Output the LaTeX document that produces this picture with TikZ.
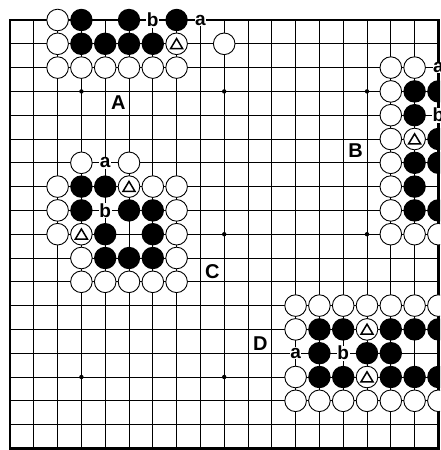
\documentclass[tikz,border=0pt]{standalone}
\usepackage{fontspec}
\setmainfont{Liberation Sans}
\begin{document}
\begin{tikzpicture}[x=23.8pt, y=-23.8pt,
  gridline/.style={line width=0.9pt},
  edgeline/.style={line width=2.2pt, line join=miter},
  wstone/.style={circle, draw, fill=white, line width=0.9pt, minimum size=21.6pt, inner sep=0pt},
  bstone/.style={circle, fill=black, minimum size=22.4pt, inner sep=0pt},
  trimark/.style={line width=1.5pt, line join=miter},
  lbl/.style={fill=white, inner sep=0.6pt, font=\fontsize{19}{19}\selectfont\bfseries},
  biglbl/.style={inner sep=0pt, font=\fontsize{20}{20}\selectfont\bfseries},
  hoshi/.style={circle, fill=black, minimum size=4.4pt, inner sep=0pt}]
\useasboundingbox (-0.42017,-0.84034) rectangle (18.0672,18.0672);
\clip (-0.42017,-0.84034) rectangle (18.0672,18.0672);
% board
\foreach \i in {1,...,17} {
  \draw[gridline] (\i,0) -- (\i,18);
  \draw[gridline] (0,\i) -- (18,\i);
}
\draw[edgeline] (0,0) rectangle (18,18);
\foreach \c/\r in {3/3,9/3,15/3,3/9,9/9,15/9,3/15,9/15,15/15}
  \node[hoshi] (h\c-\r) at (\c,\r) {};
% white stones
\foreach \c/\r in {2/0,2/1,2/2,3/2,4/2,5/2,6/2,7/2,9/1,
  16/2,17/2,16/3,16/4,16/5,16/6,16/7,16/8,16/9,17/9,18/9,
  3/6,5/6,2/7,6/7,7/7,2/8,7/8,2/9,7/9,3/10,7/10,3/11,4/11,5/11,6/11,7/11,
  12/12,13/12,14/12,15/12,16/12,17/12,18/12,12/13,12/15,
  12/16,13/16,14/16,15/16,16/16,17/16,18/16}
  \node[wstone] (w\c-\r) at (\c,\r) {};
% black stones
\foreach \c/\r in {3/0,5/0,7/0,3/1,4/1,5/1,6/1,
  17/3,18/3,17/4,18/5,17/6,18/6,17/7,17/8,18/8,
  3/7,4/7,3/8,5/8,6/8,4/9,6/9,4/10,5/10,6/10,
  13/13,14/13,16/13,17/13,18/13,13/14,15/14,16/14,13/15,14/15,16/15,17/15,18/15}
  \node[bstone] (b\c-\r) at (\c,\r) {};
% marked white stones
\foreach \c/\r in {7/1,17/5,5/7,3/9,15/13,15/15} {
  \node[wstone] (t\c-\r) at (\c,\r) {};
  \draw[trimark] ([yshift=5.2pt]t\c-\r.center) -- ([xshift=-6pt,yshift=-4.8pt]t\c-\r.center)
    -- ([xshift=6pt,yshift=-4.8pt]t\c-\r.center) -- cycle;
}
% small labels
\node[lbl] (la1) at (8,0) {a};
\node[lbl] (lb1) at (6,0) {b};
\node[lbl] (la2) at (18,2) {a};
\node[lbl] (lb2) at (18,4) {b};
\node[lbl] (la3) at (4,6) {a};
\node[lbl] (lb3) at (4,8) {b};
\node[lbl] (la4) at (12,14) {a};
\node[lbl] (lb4) at (14,14) {b};
% group labels
\node[biglbl] (gA) at (4.55,3.47) {A};
\node[biglbl] (gB) at (14.52,5.48) {B};
\node[biglbl] (gC) at (8.5,10.58) {C};
\node[biglbl] (gD) at (10.52,13.6) {D};
\end{tikzpicture}
\end{document}
